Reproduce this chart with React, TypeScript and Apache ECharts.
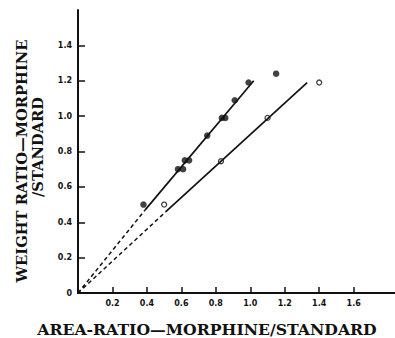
import React, { useEffect, useRef } from "react";
import * as echarts from "echarts";

const filledX = [0.38, 0.58, 0.61, 0.62, 0.645, 0.75, 0.835, 0.855, 0.91, 0.99, 1.15];
const filledY = [0.5, 0.7, 0.7, 0.75, 0.75, 0.89, 0.99, 0.99, 1.09, 1.19, 1.24];
const openX = [0.5, 0.83, 1.1, 1.4];
const openY = [0.5, 0.745, 0.99, 1.19];

const lineADashed = [[0, 0], [0.39, 0.47]];
const lineASolid = [[0.39, 0.47], [1.02, 1.2]];
const lineBDashed = [[0, 0], [0.51, 0.46]];
const lineBSolid = [[0.51, 0.46], [1.33, 1.19]];

const xTicks = [0.2, 0.4, 0.6, 0.8, 1.0, 1.2, 1.4, 1.6];
const yTicks = [0.2, 0.4, 0.6, 0.8, 1.0, 1.2, 1.4];
const yLabels = [0, 0.2, 0.4, 0.6, 0.8, 1.0, 1.2, 1.4];

const xTitle = "AREA-RATIO—MORPHINE/STANDARD";
const yTitle1 = "WEIGHT RATIO—MORPHINE";
const yTitle2 = "/STANDARD";

export default function App() {
  const ref = useRef<HTMLDivElement>(null);
  useEffect(() => {
    if (!ref.current) return;
    const chart = echarts.init(ref.current, undefined, { renderer: "svg" });
    const labelStyle = {
      fontFamily: "DejaVu Sans",
      fontWeight: "bold" as const,
      fontSize: 8,
      color: "#111",
    };
    const titleStyle = {
      fontFamily: "DejaVu Serif",
      fontWeight: "bold",
      fontSize: 14,
      fill: "#111",
      align: "center",
      verticalAlign: "middle",
    };
    const lineStyleSolid = { color: "#111", width: 1.7, type: "solid" as const };
    const lineStyleDashed = { color: "#111", width: 1.5, type: [4, 3] as any };
    chart.setOption({
      animation: false,
      backgroundColor: "#fff",
      grid: { left: 78, top: 10, right: 0, bottom: 45, containLabel: false },
      xAxis: {
        type: "value",
        min: 0,
        max: 1.84,
        axisLine: { show: true, lineStyle: { color: "#111", width: 2 } },
        axisTick: {
          show: true,
          inside: true,
          length: 6,
          customValues: xTicks,
          lineStyle: { color: "#111", width: 1.5 },
        },
        axisLabel: {
          ...labelStyle,
          margin: 6,
          customValues: xTicks,
          formatter: (v: number) => v.toFixed(1),
        },
        splitLine: { show: false },
      },
      yAxis: {
        type: "value",
        min: 0,
        max: 1.6,
        axisLine: { show: true, lineStyle: { color: "#111", width: 2 } },
        axisTick: {
          show: true,
          inside: true,
          length: 7,
          customValues: yTicks,
          lineStyle: { color: "#111", width: 1.5 },
        },
        axisLabel: {
          ...labelStyle,
          margin: 6,
          customValues: yLabels,
          formatter: (v: number) => (v === 0 ? "0" : v.toFixed(1)),
        },
        splitLine: { show: false },
      },
      graphic: [
        {
          type: "text",
          x: 207,
          y: 330,
          scaleX: 1.12,
          style: { ...titleStyle, text: xTitle },
        },
        {
          type: "text",
          x: 22,
          y: 161,
          rotation: Math.PI / 2,
          scaleX: 1.05,
          style: { ...titleStyle, text: yTitle1 },
        },
        {
          type: "text",
          x: 38,
          y: 147,
          rotation: Math.PI / 2,
          scaleX: 1.05,
          style: { ...titleStyle, text: yTitle2 },
        },
      ],
      series: [
        { type: "line", data: lineADashed, showSymbol: false, lineStyle: lineStyleDashed },
        { type: "line", data: lineASolid, showSymbol: false, lineStyle: lineStyleSolid },
        { type: "line", data: lineBDashed, showSymbol: false, lineStyle: lineStyleDashed },
        { type: "line", data: lineBSolid, showSymbol: false, lineStyle: lineStyleSolid },
        {
          type: "scatter",
          data: filledX.map((x, i) => [x, filledY[i]]),
          symbol: "circle",
          symbolSize: 6.5,
          itemStyle: { color: "#111" },
        },
        {
          type: "scatter",
          data: openX.map((x, i) => [x, openY[i]]),
          symbol: "circle",
          symbolSize: 5,
          itemStyle: { color: "#fff", borderColor: "#111", borderWidth: 1.3 },
        },
      ],
    });
    return () => chart.dispose();
  }, []);
  return (
    <div
      ref={ref}
      style={{ position: "fixed", left: 0, top: 0, width: 395, height: 338 }}
    />
  );
}
